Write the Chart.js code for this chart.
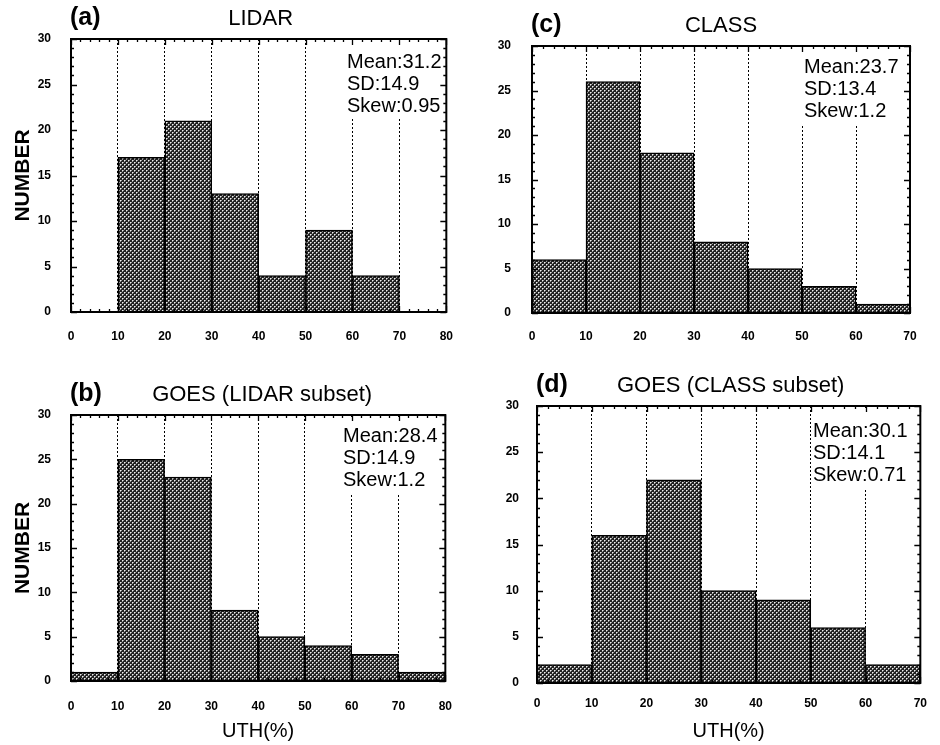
<!DOCTYPE html>
<html>
<head>
<meta charset="utf-8">
<title>UTH histograms</title>
<script src="https://cdn.jsdelivr.net/npm/chart.js@4.4.0/dist/chart.umd.min.js"></script>
<style>
  body { margin: 0; background: #fff; }
  #wrap { position: relative; width: 940px; height: 745px; overflow: hidden; }
  #wrap canvas { position: absolute; }
</style>
</head>
<body>
<div id="wrap">
  <canvas id="chartA" width="470" height="350" style="left:0;top:0"></canvas>
  <canvas id="chartC" width="470" height="350" style="left:470px;top:0"></canvas>
  <canvas id="chartB" width="470" height="395" style="left:0;top:350px"></canvas>
  <canvas id="chartD" width="470" height="395" style="left:470px;top:350px"></canvas>
</div>
<script>
// bin centres (UTH %, 10% wide bins)
var binsLidar = [5, 15, 25, 35, 45, 55, 65, 75];
var binsClass = [5, 15, 25, 35, 45, 55, 65];

// counts per bin
var lidarCounts = [0, 17, 21, 13, 4, 9, 4, 0];
var goesLidarCounts = [1, 25, 23, 8, 5, 4, 3, 1];
var classCounts = [6, 26, 18, 8, 5, 3, 1];
var goesClassCounts = [2, 16, 22, 10, 9, 6, 2];

// statistics printed in each panel
var lidarStats = ["Mean:31.2", "SD:14.9", "Skew:0.95"];
var goesLidarStats = ["Mean:28.4", "SD:14.9", "Skew:1.2"];
var classStats = ["Mean:23.7", "SD:13.4", "Skew:1.2"];
var goesClassStats = ["Mean:30.1", "SD:14.1", "Skew:0.71"];

var yMax = 30;
var yStep = 5;
var xStep = 10;

var FONT = '"Liberation Sans", Arial, Helvetica, sans-serif';
Chart.defaults.font.family = FONT;
Chart.defaults.color = "#000";

// halftone fill like the scanned bars
function makeStipple() {
  var c = document.createElement("canvas");
  c.width = 4;
  c.height = 4;
  var g = c.getContext("2d");
  g.fillStyle = "#222";
  g.fillRect(0, 0, 4, 4);
  g.fillStyle = "#eee";
  g.fillRect(0, 0, 1, 1);
  g.fillRect(2, 2, 1, 1);
  g.fillStyle = "#9a9a9a";
  g.fillRect(1, 0, 1, 1);
  g.fillRect(3, 2, 1, 1);
  g.fillRect(0, 1, 1, 1);
  g.fillRect(2, 3, 1, 1);
  return g.createPattern(c, "repeat");
}
var stipple = makeStipple();

// frame, inward minor ticks, stats box, panel title
var panelDecor = {
  id: "panelDecor",
  afterDatasetsDraw: function (chart, args, opts) {
    var ctx = chart.ctx;
    var a = chart.chartArea;
    var xs = chart.scales.x;
    var ys = chart.scales.y;
    ctx.save();

    // stats text on a white box (hides the dotted lines behind it)
    ctx.font = "20px " + FONT;
    var tx = a.left + opts.statsLeft;
    var ty = a.top + opts.statsTop;
    var w = 0;
    opts.stats.forEach(function (s) { w = Math.max(w, ctx.measureText(s).width); });
    ctx.fillStyle = "#fff";
    ctx.fillRect(tx - 2, a.top + 2, w + 4, ty - a.top + (opts.stats.length - 1) * 22 + 5);
    ctx.fillStyle = "#000";
    ctx.textAlign = "left";
    ctx.textBaseline = "alphabetic";
    opts.stats.forEach(function (s, i) { ctx.fillText(s, tx, ty + i * 22); });

    // minor ticks on all four sides
    ctx.strokeStyle = "#000";
    ctx.lineWidth = 1.3;
    ctx.beginPath();
    var v, p, len;
    for (v = ys.min; v <= ys.max; v += 1) {
      p = Math.round(ys.getPixelForValue(v)) + 0.5;
      len = v % 5 === 0 ? 6 : 3;
      ctx.moveTo(a.left, p); ctx.lineTo(a.left + len, p);
      ctx.moveTo(a.right, p); ctx.lineTo(a.right - len, p);
    }
    for (v = xs.min; v <= xs.max; v += 2) {
      p = Math.round(xs.getPixelForValue(v)) + 0.5;
      len = v % 10 === 0 ? 6 : 3;
      ctx.moveTo(p, a.top); ctx.lineTo(p, a.top + len);
      ctx.moveTo(p, a.bottom); ctx.lineTo(p, a.bottom - len);
    }
    ctx.stroke();

    ctx.lineWidth = 2;
    ctx.strokeRect(a.left, a.top, a.right - a.left, a.bottom - a.top);

    // titles
    ctx.textBaseline = "middle";
    ctx.textAlign = "center";
    ctx.font = "22px " + FONT;
    ctx.fillText(opts.title, (a.left + a.right) / 2 + opts.titleShift, a.top - 20);
    ctx.textAlign = "left";
    ctx.font = "bold 25px " + FONT;
    ctx.fillText(opts.letter, a.left - 1, a.top - 21);
    ctx.restore();
  }
};

function makeHistogram(id, bins, counts, xMax, box, decor, yTitle, xTitle, xPad, yPad) {
  var points = bins.map(function (b, i) { return { x: b, y: counts[i] }; });
  var canvas = document.getElementById(id);
  return new Chart(canvas, {
    type: "bar",
    data: {
      datasets: [{
        data: points,
        backgroundColor: stipple,
        borderColor: "#000",
        borderWidth: 1.5,
        barPercentage: 1,
        categoryPercentage: 1
      }]
    },
    options: {
      responsive: false,
      animation: false,
      layout: { padding: { left: 0, top: box.top, right: canvas.width - box.right, bottom: 0 } },
      plugins: {
        legend: { display: false },
        tooltip: { enabled: false },
        panelDecor: decor
      },
      scales: {
        x: {
          type: "linear",
          min: 0,
          max: xMax,
          offset: false,
          grid: {
            offset: false,
            drawTicks: false,
            lineWidth: 1,
            color: function (c) {
              return c.tick && c.tick.value > 0 && c.tick.value < xMax ? "#000" : "rgba(0,0,0,0)";
            }
          },
          border: { display: false, dash: [2, 2] },
          ticks: {
            stepSize: xStep,
            maxRotation: 0,
            autoSkip: false,
            padding: xPad,
            font: { size: 12, weight: "bold" }
          },
          title: {
            display: !!xTitle,
            text: xTitle || "",
            font: { size: 20 },
            padding: { top: 0, bottom: 2 }
          },
          afterFit: function (s) { s.height = canvas.height - box.bottom; }
        },
        y: {
          min: 0,
          max: yMax,
          grid: { display: false, drawTicks: false },
          border: { display: false },
          ticks: {
            stepSize: yStep,
            padding: yPad,
            font: { size: 12, weight: "bold" }
          },
          title: {
            display: !!yTitle,
            text: yTitle || "",
            font: { size: 21, weight: "bold" },
            padding: { top: 11, bottom: 0 }
          },
          afterFit: function (s) { s.width = box.left; }
        }
      }
    },
    plugins: [panelDecor]
  });
}

var chartA = makeHistogram("chartA", binsLidar, lidarCounts, 80,
  { left: 71, top: 39, right: 461, bottom: 312 },
  { letter: "(a)", title: "LIDAR", titleShift: 2, stats: lidarStats, statsLeft: 276, statsTop: 29 },
  "NUMBER", null, 17, 20);

var chartC = makeHistogram("chartC", binsClass, classCounts, 70,
  { left: 62, top: 46, right: 440, bottom: 313 },
  { letter: "(c)", title: "CLASS", titleShift: 0, stats: classStats, statsLeft: 272, statsTop: 27 },
  null, null, 16, 21);

var chartB = makeHistogram("chartB", binsLidar, goesLidarCounts, 80,
  { left: 71, top: 65, right: 452, bottom: 331 },
  { letter: "(b)", title: "GOES (LIDAR subset)", titleShift: 4, stats: goesLidarStats, statsLeft: 272, statsTop: 27 },
  "NUMBER", "UTH(%)", 18, 20);

var chartD = makeHistogram("chartD", binsClass, goesClassCounts, 70,
  { left: 67, top: 56, right: 460, bottom: 333 },
  { letter: "(d)", title: "GOES (CLASS subset)", titleShift: 2, stats: goesClassStats, statsLeft: 276, statsTop: 31 },
  null, "UTH(%)", 13, 18);
</script>
</body>
</html>
